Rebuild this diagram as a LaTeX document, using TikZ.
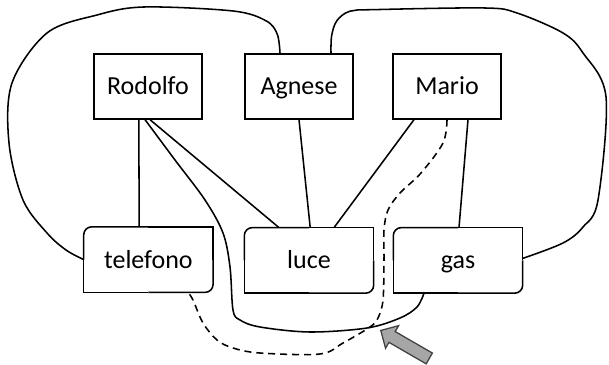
\documentclass[tikz,border=0pt]{standalone}
\usepackage{fontspec}
\setmainfont{Carlito}
\usetikzlibrary{shapes.arrows,positioning,calc}
\definecolor{pointergray}{RGB}{166,166,166}
\definecolor{pointeredge}{RGB}{64,64,64}
% frame with rounded top-left and bottom-right corners
\newcommand{\cornerframe}[1]{%
  \draw[link, rounded corners=0.2cm] (#1.west) |- (#1.north);
  \draw[link] (#1.north) -| (#1.east);
  \draw[link, rounded corners=0.2cm] (#1.east) |- (#1.south);
  \draw[link] (#1.south) -| (#1.west);
}

\begin{document}
\begin{tikzpicture}[
  person/.style={rectangle, draw, line width=1.1pt, minimum width=2.7cm,
    minimum height=1.625cm, inner sep=2pt, text height=13pt, text depth=1pt},
  service/.style={rectangle, minimum width=3.22cm, minimum height=1.625cm,
    inner sep=2pt, text height=13pt, text depth=1pt},
  link/.style={line width=1.1pt},
  route/.style={line width=1.1pt, dash pattern=on 5pt off 3.5pt},
  pointer/.style={single arrow, draw=pointeredge, fill=pointergray,
    line width=0.9pt, minimum height=1.4cm, inner sep=0.14cm,
    single arrow head extend=0.17cm, single arrow head indent=0pt,
    anchor=tip, rotate=150},
  every node/.style={font=\fontsize{18.5}{22}\selectfont}
]
  \useasboundingbox (0,0) rectangle (15.225,9.1);

  % People
  \node[person] (rodolfo) at (3.70,6.94) {Rodolfo};
  \node[person] (agnese) at (7.475,6.94) {Agnese};
  \node[person] (mario) at (11.175,6.94) {Mario};

  % Utilities
  \node[service] (telefono) at (3.71,2.61) {telefono};
  \node[service] (luce) at (7.725,2.59) {luce};
  \node[service] (gas) at (11.45,2.59) {gas};
  \cornerframe{telefono}
  \cornerframe{luce}
  \cornerframe{gas}

  % Straight links
  \draw[link] ([xshift=-0.23cm]rodolfo.south) -- ([xshift=-0.23cm]telefono.north);
  \draw[link] ([xshift=0.05cm]rodolfo.south) -- ([xshift=-0.75cm]luce.north);
  \draw[link] (agnese.south) -- ([xshift=0.03cm]luce.north);
  \draw[link] ([xshift=-0.825cm]mario.south) -- ([xshift=0.625cm]luce.north);
  \draw[link] ([xshift=0.525cm]mario.south) -- ([xshift=0.025cm]gas.north);

  % Outer loops
  \draw[link] plot[smooth, tension=0.55] coordinates {(telefono.west)
    (1.65,2.85) (1.175,3.275) (0.575,4.1) (0.225,5.525) (0.3,7.025)
    (1.175,8.275) (2.425,8.725) (3.6,8.925) (5.825,8.825) (6.65,8.58)
    (6.93,8.25) ([xshift=-0.475cm]agnese.north)};
  \draw[link] plot[smooth, tension=0.55] coordinates {([xshift=0.8cm]agnese.north)
    (8.29,8.2) (8.42,8.58) (8.75,8.82) (9.4,8.86) (12.125,8.9) (12.925,8.775)
    (14.075,8.275) (14.575,7.775) (15.15,6.675) (14.95,4.1) (14.575,3.425)
    (14.075,3.025) ([yshift=0.05cm]gas.east)};

  % Rodolfo to gas
  \draw[link] plot[smooth, tension=0.55] coordinates {([xshift=-0.075cm]rodolfo.south)
    (4.375,5.1) (5.125,4.1) (5.575,3.275) (5.75,2.425) (5.825,1.35)
    (6.0,1.1) (6.5,0.925) (7.75,0.8) (9.175,0.9) (10.0,1.15) (10.425,1.425)
    ([xshift=-0.85cm]gas.south)};

  % Dashed route
  \draw[route] plot[smooth, tension=0.55] coordinates {(mario.south)
    (11.075,5.525) (10.525,4.775) (10.0,4.275) (9.7,3.85) (9.6,3.35)
    (9.6,2.6) (9.575,1.6) (9.45,1.15) (9.25,0.925) (8.575,0.525)
    (8.0,0.25) (6.5,0.275) (5.825,0.4) (5.425,0.6) (5.075,1.025)
    (4.825,1.6) ([xshift=0.99cm]telefono.south)};

  % Pointer
  \node[pointer] (hint) at (9.5,0.85) {};
\end{tikzpicture}
\end{document}
